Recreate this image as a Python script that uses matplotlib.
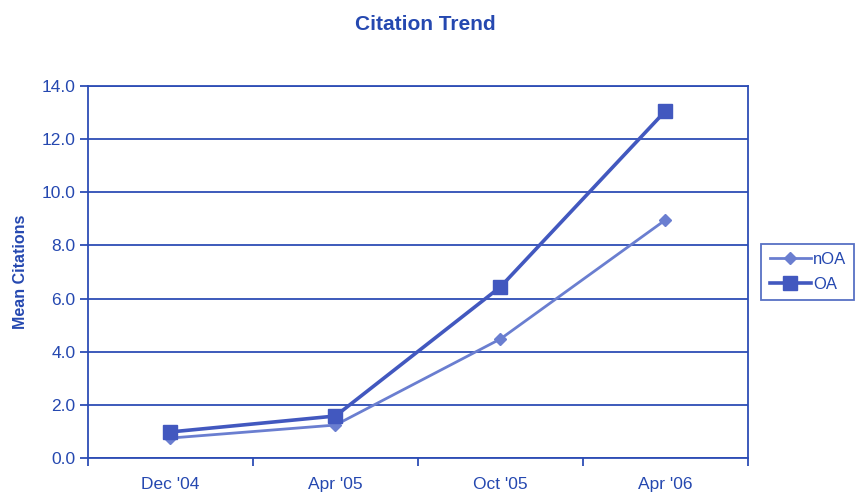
import matplotlib.pyplot as plt
import numpy as np

plt.rcParams['font.family'] = ['Liberation Sans', 'DejaVu Sans']

# --- Dados ---
periodos = ["Dec '04", "Apr '05", "Oct '05", "Apr '06"]
noa = [0.75, 1.24, 4.48, 8.96]
oa = [0.98, 1.58, 6.44, 13.06]
y_ticks = [0, 2, 4, 6, 8, 10, 12, 14]

# --- Cores ---
eixo = '#2d4db5'
texto = '#2548b0'
cor_noa = '#6a7ed0'
cor_oa = '#4258bf'

fig = plt.figure(figsize=(8.56, 4.94), dpi=100)
ax = fig.add_axes([0.1028, 0.0729, 0.771, 0.7531])

x = np.arange(len(periodos))
ax.plot(x, noa, color=cor_noa, lw=2, marker='D', markersize=6, label='nOA')
ax.plot(x, oa, color=cor_oa, lw=2.6, marker='s', markersize=10, label='OA')

ax.set_xlim(-0.5, len(periodos) - 0.5)
ax.set_ylim(0, 14)
ax.set_yticks(y_ticks)
ax.set_yticklabels([f"{v:.1f}" for v in y_ticks])
ax.set_xticks(x)
ax.set_xticklabels(periodos)
ax.set_xticks(np.arange(-0.5, len(periodos)), minor=True)
ax.tick_params(axis='x', which='major', length=0, pad=14, labelsize=12.5, colors=texto)
ax.tick_params(axis='x', which='minor', length=6, width=1.3, color=eixo, direction='out')
ax.tick_params(axis='y', length=6, width=1.3, color=eixo, labelsize=12.5, labelcolor=texto, pad=3)

ax.grid(axis='y', color=eixo, lw=1.3)
ax.set_axisbelow(True)
for s in ax.spines.values():
    s.set_color(eixo)
    s.set_linewidth(1.3)

ax.set_ylabel('Mean Citations', fontsize=11.5, fontweight='bold', color=texto, labelpad=10)
fig.suptitle('Citation Trend', x=0.497, y=0.97, fontsize=15, fontweight='bold', color=texto)

leg = ax.legend(loc='center left', bbox_to_anchor=(1.02, 0.5), frameon=True, fancybox=False,
                edgecolor=eixo, fontsize=12, handlelength=2.5, borderpad=0.5,
                labelspacing=0.6, handletextpad=0.1, borderaxespad=0)
leg.get_frame().set_linewidth(1.3)
for t in leg.get_texts():
    t.set_color(texto)

fig.savefig('out.png', dpi=100)
